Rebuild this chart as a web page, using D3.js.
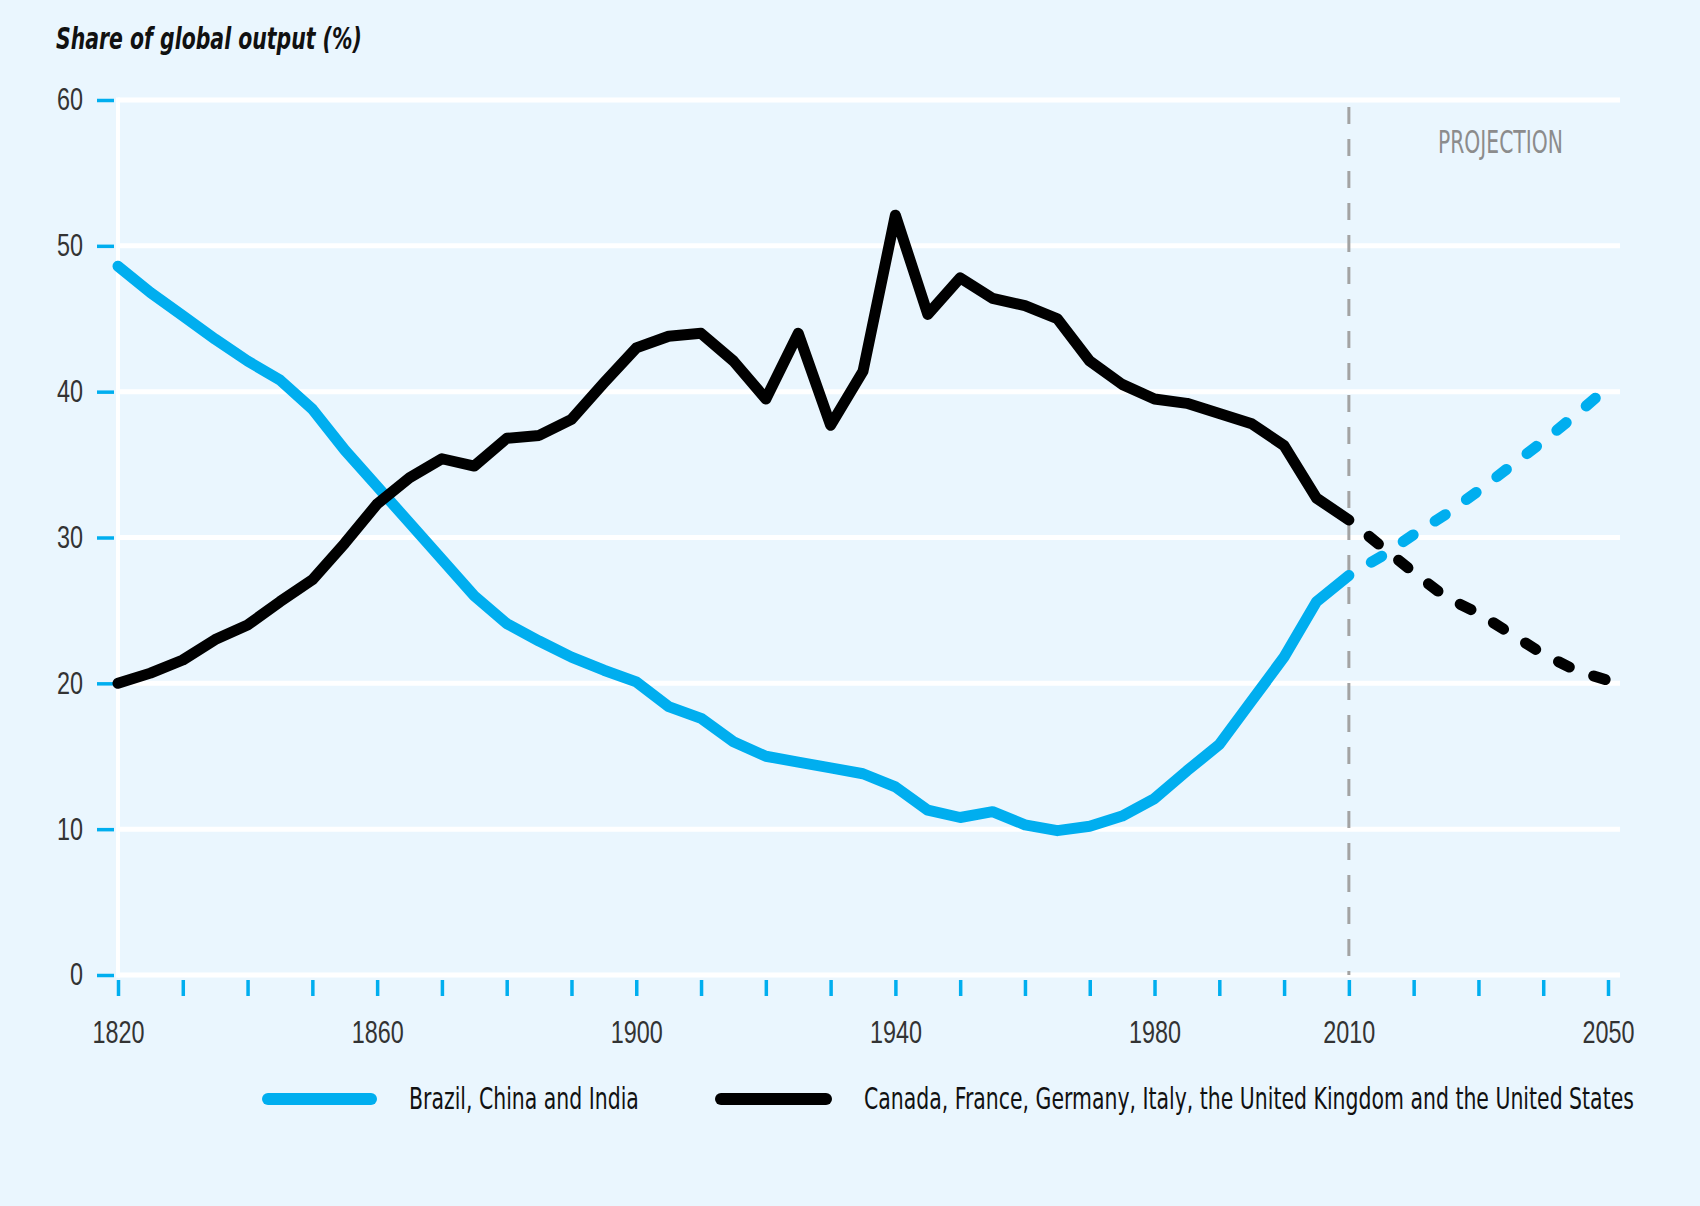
<!DOCTYPE html>
<html><head><meta charset="utf-8">
<script src="https://cdn.jsdelivr.net/npm/d3@7"></script>
<style>
html,body{margin:0;padding:0;background:#eaf6fe;}
svg{display:block;}
text{font-family:"Liberation Sans Narrow","Arial Narrow","DejaVu Sans Condensed",sans-serif;}
</style></head><body>
<svg id="chart" width="1700" height="1206"></svg>
<script>
// ---- data ----
const years = [1820,1825,1830,1835,1840,1845,1850,1855,1860,1865,1870,1875,1880,1885,1890,1895,
  1900,1905,1910,1915,1920,1925,1930,1935,1940,1945,1950,1955,1960,1965,1970,1975,1980,1985,1990,1995,2000,2005,2010];
const brazilChinaIndia = [48.6,46.8,45.2,43.6,42.1,40.8,38.8,36.0,33.5,31.0,28.5,26.0,24.1,22.9,21.8,20.9,
  20.1,18.4,17.6,16.0,15.0,14.6,14.2,13.8,12.9,11.3,10.8,11.2,10.3,9.9,10.2,10.9,12.1,14.0,15.8,18.8,21.8,25.6,27.4];
const g6 = [20.0,20.7,21.6,23.0,24.0,25.6,27.1,29.6,32.3,34.1,35.4,34.9,36.8,37.0,38.1,40.6,
  43.0,43.8,44.0,42.1,39.5,44.0,37.7,41.4,52.1,45.3,47.8,46.4,45.9,45.0,42.1,40.5,39.5,39.2,38.5,37.8,36.3,32.7,31.2];
const projectionYears = [2010,2015,2020,2025,2030,2035,2040,2045,2050];
const brazilChinaIndiaProjection = [27.4,28.7,30.2,31.6,33.2,34.9,36.6,38.4,40.3];
const g6Projection = [31.2,29.4,27.6,25.9,24.8,23.4,22.0,20.9,20.2];
const xTickValues = [1820,1830,1840,1850,1860,1870,1880,1890,1900,1910,1920,1930,1940,1950,1960,1970,1980,1990,2000,2010,2020,2030,2040,2050];
const xTickLabels = [1820,1860,1900,1940,1980,2010,2050];
const yTickValues = [0,10,20,30,40,50,60];
const seriesNames = ["Brazil, China and India",
  "Canada, France, Germany, Italy, the United Kingdom and the United States"];
const titleText = "Share of global output (%)";
const projectionLabel = "PROJECTION";
const projectionStart = 2010;

// ---- styles ----
const BLUE = "#00aeef", BLACK = "#000000", BG = "#eaf6fe";

const svg = d3.select("#chart");
svg.append("rect").attr("width",1700).attr("height",1206).attr("fill",BG);

const x = d3.scaleLinear().domain([1820,2050]).range([118,1608]);
const y = d3.scaleLinear().domain([0,60]).range([975,100]);
const gridRight = x.range()[1] + 12;

// place a text at (tx,ty) squeezed horizontally to a target width
function squeezed(parent, str, tx, ty, targetW, size, weight, style) {
  const t = parent.append("text").text(str).attr("font-size", size)
    .attr("font-weight", weight || "normal").attr("font-style", style || "normal");
  const w = t.node().getComputedTextLength();
  const s = w > 0 ? Math.min(1, targetW / w) : 1;
  t.attr("transform", `translate(${tx},${ty}) scale(${s},1)`);
  return t;
}

// gridlines
svg.append("g").selectAll("line").data(yTickValues).join("line")
  .attr("x1", x(1820)).attr("x2", gridRight)
  .attr("y1", d => y(d)).attr("y2", d => y(d))
  .attr("stroke","#ffffff").attr("stroke-width",5);
// vertical white axis
svg.append("line").attr("x1",x(1820)).attr("x2",x(1820)).attr("y1",y(60)-2.5).attr("y2",y(0)+2.5)
  .attr("stroke","#ffffff").attr("stroke-width",4);

// y axis
const yAxis = svg.append("g").attr("transform","translate(114,0)")
  .call(d3.axisLeft(y).tickValues(yTickValues).tickSize(17).tickPadding(14));
yAxis.select(".domain").remove();
yAxis.selectAll(".tick line").attr("stroke",BLUE).attr("stroke-width",3.5);
yAxis.selectAll(".tick text").attr("fill","#333").attr("font-size",31)
  .style("font-family",'"Liberation Sans Narrow","Arial Narrow",sans-serif')
  .attr("textLength", d => String(d).length*13).attr("lengthAdjust","spacingAndGlyphs");

// x axis
const xAxis = svg.append("g").attr("transform","translate(0,980)")
  .call(d3.axisBottom(x).tickValues(xTickValues).tickSize(16).tickPadding(25)
    .tickFormat(d => xTickLabels.includes(d) ? String(d) : ""));
xAxis.select(".domain").remove();
xAxis.selectAll(".tick line").attr("stroke",BLUE).attr("stroke-width",3.5);
xAxis.selectAll(".tick text").attr("fill","#333").attr("font-size",31)
  .style("font-family",'"Liberation Sans Narrow","Arial Narrow",sans-serif')
  .filter(d => xTickLabels.includes(d))
  .attr("textLength", 52).attr("lengthAdjust","spacingAndGlyphs");

// projection divider
svg.append("line").attr("x1",x(projectionStart)).attr("x2",x(projectionStart))
  .attr("y1",y(60)+7).attr("y2",y(0))
  .attr("stroke","#a3a3a3").attr("stroke-width",3).attr("stroke-dasharray","17,15");
squeezed(svg, projectionLabel, 1438, 153, 125, 32).attr("fill","#8c8c8c");

// title
squeezed(svg, titleText, 56, 49, 306, 31, "bold", "italic").attr("fill","#111");

// lines
const line = d3.line().x(d => x(d[0])).y(d => y(d[1]));
const histBlue = years.map((yr,i) => [yr, brazilChinaIndia[i]]);
const histBlack = years.map((yr,i) => [yr, g6[i]]);
const projBlue = projectionYears.map((yr,i) => [yr, brazilChinaIndiaProjection[i]]);
const projBlack = projectionYears.map((yr,i) => [yr, g6Projection[i]]);

const lw = 11;
svg.append("path").attr("d", line(histBlue)).attr("fill","none").attr("stroke",BLUE)
  .attr("stroke-width",lw).attr("stroke-linejoin","round").attr("stroke-linecap","round");
svg.append("path").attr("d", line(projBlue)).attr("fill","none").attr("stroke",BLUE)
  .attr("stroke-width",lw).attr("stroke-linecap","round").attr("stroke-linejoin","round")
  .attr("stroke-dasharray","12,26").attr("stroke-dashoffset",12);
svg.append("path").attr("d", line(histBlack)).attr("fill","none").attr("stroke",BLACK)
  .attr("stroke-width",lw).attr("stroke-linejoin","round").attr("stroke-linecap","round");
svg.append("path").attr("d", line(projBlack)).attr("fill","none").attr("stroke",BLACK)
  .attr("stroke-width",lw).attr("stroke-linecap","round").attr("stroke-linejoin","round")
  .attr("stroke-dasharray","12,26").attr("stroke-dashoffset",12);

// legend
const legend = [
  {name: seriesNames[0], color: BLUE, x1: 268, x2: 371, tx: 409, tl: 230},
  {name: seriesNames[1], color: BLACK, x1: 721, x2: 826, tx: 864, tl: 770}
];
const lg = svg.append("g");
legend.forEach(l => {
  lg.append("line").attr("x1",l.x1).attr("x2",l.x2).attr("y1",1099).attr("y2",1099)
    .attr("stroke",l.color).attr("stroke-width",12).attr("stroke-linecap","round");
  squeezed(lg, l.name, l.tx, 1109, l.tl, 30).attr("fill","#111");
});
</script>
</body></html>
